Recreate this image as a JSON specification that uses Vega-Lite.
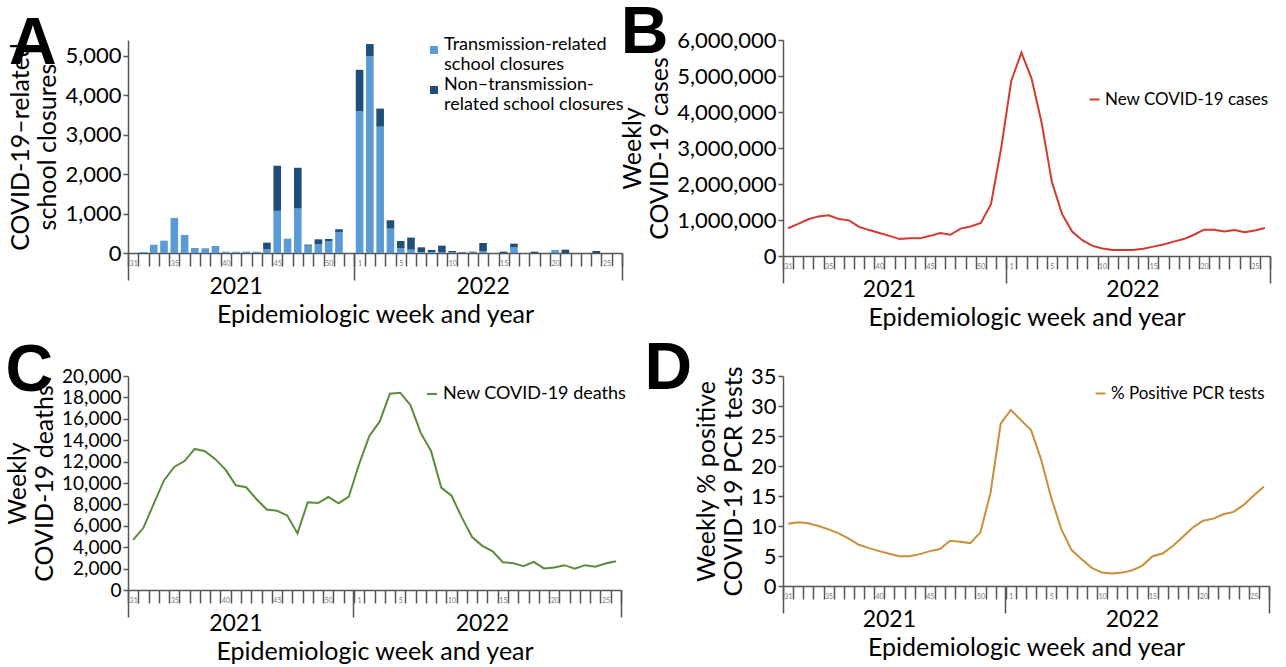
{
  "$schema": "https://vega.github.io/schema/vega-lite/v6.json",
  "padding": {"left": 5, "top": 0, "right": 2, "bottom": 0},
  "config": {
    "font": "Lato",
    "view": {"stroke": null},
    "axis": {"labelColor": "black", "titleColor": "black", "titleFontWeight": "normal", "domainColor": "#555", "tickColor": "#555", "domainWidth": 1.5, "tickWidth": 1.5, "grid": false, "labelOverlap": false},
    "legend": {"labelFontSize": 18, "labelColor": "black", "labelLimit": 400},
    "title": {"fontSize": 66, "fontWeight": "bold", "font": "Liberation Sans", "anchor": "start", "frame": "bounds", "color": "black"}
  },
  "datasets": {
    "weekly": [
      {"wk": "2021-31", "cases": 770000, "deaths": 4680, "pcr": 10.39},
      {"wk": "2021-32", "cases": 890000, "deaths": 5810, "pcr": 10.61},
      {"wk": "2021-33", "cases": 1020000, "deaths": 8040, "pcr": 10.45},
      {"wk": "2021-34", "cases": 1100000, "deaths": 10240, "pcr": 10.0},
      {"wk": "2021-35", "cases": 1130000, "deaths": 11500, "pcr": 9.44},
      {"wk": "2021-36", "cases": 1030000, "deaths": 12050, "pcr": 8.77},
      {"wk": "2021-37", "cases": 990000, "deaths": 13180, "pcr": 7.88},
      {"wk": "2021-38", "cases": 810000, "deaths": 12970, "pcr": 6.87},
      {"wk": "2021-39", "cases": 720000, "deaths": 12230, "pcr": 6.31},
      {"wk": "2021-40", "cases": 640000, "deaths": 11250, "pcr": 5.81},
      {"wk": "2021-41", "cases": 560000, "deaths": 9790, "pcr": 5.36},
      {"wk": "2021-42", "cases": 470000, "deaths": 9600, "pcr": 4.97},
      {"wk": "2021-43", "cases": 490000, "deaths": 8500, "pcr": 4.97},
      {"wk": "2021-44", "cases": 490000, "deaths": 7520, "pcr": 5.31},
      {"wk": "2021-45", "cases": 560000, "deaths": 7400, "pcr": 5.81},
      {"wk": "2021-46", "cases": 640000, "deaths": 6970, "pcr": 6.15},
      {"wk": "2021-47", "cases": 590000, "deaths": 5290, "pcr": 7.54},
      {"wk": "2021-48", "cases": 760000, "deaths": 8200, "pcr": 7.37},
      {"wk": "2021-49", "cases": 820000, "deaths": 8130, "pcr": 7.15},
      {"wk": "2021-50", "cases": 920000, "deaths": 8690, "pcr": 8.94},
      {"wk": "2021-51", "cases": 1440000, "deaths": 8100, "pcr": 15.59},
      {"wk": "2021-52", "cases": 2990000, "deaths": 8720, "pcr": 27.04},
      {"wk": "2022-01", "cases": 4870000, "deaths": 11770, "pcr": 29.33},
      {"wk": "2022-02", "cases": 5650000, "deaths": 14400, "pcr": 27.65},
      {"wk": "2022-03", "cases": 4930000, "deaths": 15730, "pcr": 25.98},
      {"wk": "2022-04", "cases": 3690000, "deaths": 18350, "pcr": 21.06},
      {"wk": "2022-05", "cases": 2060000, "deaths": 18440, "pcr": 14.64},
      {"wk": "2022-06", "cases": 1170000, "deaths": 17280, "pcr": 9.44},
      {"wk": "2022-07", "cases": 680000, "deaths": 14680, "pcr": 5.98},
      {"wk": "2022-08", "cases": 440000, "deaths": 13000, "pcr": 4.47},
      {"wk": "2022-09", "cases": 280000, "deaths": 9570, "pcr": 3.02},
      {"wk": "2022-10", "cases": 210000, "deaths": 8810, "pcr": 2.23},
      {"wk": "2022-11", "cases": 170000, "deaths": 6790, "pcr": 2.07},
      {"wk": "2022-12", "cases": 170000, "deaths": 4950, "pcr": 2.23},
      {"wk": "2022-13", "cases": 170000, "deaths": 4130, "pcr": 2.63},
      {"wk": "2022-14", "cases": 200000, "deaths": 3610, "pcr": 3.41},
      {"wk": "2022-15", "cases": 260000, "deaths": 2600, "pcr": 4.97},
      {"wk": "2022-16", "cases": 320000, "deaths": 2510, "pcr": 5.42},
      {"wk": "2022-17", "cases": 400000, "deaths": 2230, "pcr": 6.65},
      {"wk": "2022-18", "cases": 470000, "deaths": 2630, "pcr": 8.21},
      {"wk": "2022-19", "cases": 590000, "deaths": 2020, "pcr": 9.78},
      {"wk": "2022-20", "cases": 730000, "deaths": 2110, "pcr": 10.89},
      {"wk": "2022-21", "cases": 730000, "deaths": 2320, "pcr": 11.23},
      {"wk": "2022-22", "cases": 680000, "deaths": 1990, "pcr": 11.96},
      {"wk": "2022-23", "cases": 720000, "deaths": 2320, "pcr": 12.35},
      {"wk": "2022-24", "cases": 660000, "deaths": 2170, "pcr": 13.52},
      {"wk": "2022-25", "cases": 710000, "deaths": 2480, "pcr": 15.08},
      {"wk": "2022-26", "cases": 780000, "deaths": 2690, "pcr": 16.59}
    ],
    "closures": [
      {"wk": "2021-31", "series": "Transmission-related school closures", "n": 0}, {"wk": "2021-31", "series": "Non–transmission-related school closures", "n": 0},
      {"wk": "2021-32", "series": "Transmission-related school closures", "n": 25}, {"wk": "2021-32", "series": "Non–transmission-related school closures", "n": 0},
      {"wk": "2021-33", "series": "Transmission-related school closures", "n": 210}, {"wk": "2021-33", "series": "Non–transmission-related school closures", "n": 0},
      {"wk": "2021-34", "series": "Transmission-related school closures", "n": 314}, {"wk": "2021-34", "series": "Non–transmission-related school closures", "n": 0},
      {"wk": "2021-35", "series": "Transmission-related school closures", "n": 890}, {"wk": "2021-35", "series": "Non–transmission-related school closures", "n": 0},
      {"wk": "2021-36", "series": "Transmission-related school closures", "n": 458}, {"wk": "2021-36", "series": "Non–transmission-related school closures", "n": 0},
      {"wk": "2021-37", "series": "Transmission-related school closures", "n": 127}, {"wk": "2021-37", "series": "Non–transmission-related school closures", "n": 0},
      {"wk": "2021-38", "series": "Transmission-related school closures", "n": 119}, {"wk": "2021-38", "series": "Non–transmission-related school closures", "n": 0},
      {"wk": "2021-39", "series": "Transmission-related school closures", "n": 178}, {"wk": "2021-39", "series": "Non–transmission-related school closures", "n": 0},
      {"wk": "2021-40", "series": "Transmission-related school closures", "n": 34}, {"wk": "2021-40", "series": "Non–transmission-related school closures", "n": 0},
      {"wk": "2021-41", "series": "Transmission-related school closures", "n": 34}, {"wk": "2021-41", "series": "Non–transmission-related school closures", "n": 0},
      {"wk": "2021-42", "series": "Transmission-related school closures", "n": 34}, {"wk": "2021-42", "series": "Non–transmission-related school closures", "n": 0},
      {"wk": "2021-43", "series": "Transmission-related school closures", "n": 34}, {"wk": "2021-43", "series": "Non–transmission-related school closures", "n": 0},
      {"wk": "2021-44", "series": "Transmission-related school closures", "n": 102}, {"wk": "2021-44", "series": "Non–transmission-related school closures", "n": 161},
      {"wk": "2021-45", "series": "Transmission-related school closures", "n": 1068}, {"wk": "2021-45", "series": "Non–transmission-related school closures", "n": 1144},
      {"wk": "2021-46", "series": "Transmission-related school closures", "n": 364}, {"wk": "2021-46", "series": "Non–transmission-related school closures", "n": 0},
      {"wk": "2021-47", "series": "Transmission-related school closures", "n": 1127}, {"wk": "2021-47", "series": "Non–transmission-related school closures", "n": 1034},
      {"wk": "2021-48", "series": "Transmission-related school closures", "n": 186}, {"wk": "2021-48", "series": "Non–transmission-related school closures", "n": 26},
      {"wk": "2021-49", "series": "Transmission-related school closures", "n": 220}, {"wk": "2021-49", "series": "Non–transmission-related school closures", "n": 127},
      {"wk": "2021-50", "series": "Transmission-related school closures", "n": 305}, {"wk": "2021-50", "series": "Non–transmission-related school closures", "n": 51},
      {"wk": "2021-51", "series": "Transmission-related school closures", "n": 534}, {"wk": "2021-51", "series": "Non–transmission-related school closures", "n": 68},
      {"wk": "2021-52", "series": "Transmission-related school closures", "n": 0}, {"wk": "2021-52", "series": "Non–transmission-related school closures", "n": 0},
      {"wk": "2022-01", "series": "Transmission-related school closures", "n": 3593}, {"wk": "2022-01", "series": "Non–transmission-related school closures", "n": 1051},
      {"wk": "2022-02", "series": "Transmission-related school closures", "n": 4983}, {"wk": "2022-02", "series": "Non–transmission-related school closures", "n": 314},
      {"wk": "2022-03", "series": "Transmission-related school closures", "n": 3203}, {"wk": "2022-03", "series": "Non–transmission-related school closures", "n": 458},
      {"wk": "2022-04", "series": "Transmission-related school closures", "n": 619}, {"wk": "2022-04", "series": "Non–transmission-related school closures", "n": 211},
      {"wk": "2022-05", "series": "Transmission-related school closures", "n": 127}, {"wk": "2022-05", "series": "Non–transmission-related school closures", "n": 178},
      {"wk": "2022-06", "series": "Transmission-related school closures", "n": 85}, {"wk": "2022-06", "series": "Non–transmission-related school closures", "n": 305},
      {"wk": "2022-07", "series": "Transmission-related school closures", "n": 25}, {"wk": "2022-07", "series": "Non–transmission-related school closures", "n": 119},
      {"wk": "2022-08", "series": "Transmission-related school closures", "n": 25}, {"wk": "2022-08", "series": "Non–transmission-related school closures", "n": 51},
      {"wk": "2022-09", "series": "Transmission-related school closures", "n": 25}, {"wk": "2022-09", "series": "Non–transmission-related school closures", "n": 161},
      {"wk": "2022-10", "series": "Transmission-related school closures", "n": 17}, {"wk": "2022-10", "series": "Non–transmission-related school closures", "n": 34},
      {"wk": "2022-11", "series": "Transmission-related school closures", "n": 10}, {"wk": "2022-11", "series": "Non–transmission-related school closures", "n": 15},
      {"wk": "2022-12", "series": "Transmission-related school closures", "n": 15}, {"wk": "2022-12", "series": "Non–transmission-related school closures", "n": 19},
      {"wk": "2022-13", "series": "Transmission-related school closures", "n": 42}, {"wk": "2022-13", "series": "Non–transmission-related school closures", "n": 212},
      {"wk": "2022-14", "series": "Transmission-related school closures", "n": 0}, {"wk": "2022-14", "series": "Non–transmission-related school closures", "n": 0},
      {"wk": "2022-15", "series": "Transmission-related school closures", "n": 0}, {"wk": "2022-15", "series": "Non–transmission-related school closures", "n": 34},
      {"wk": "2022-16", "series": "Transmission-related school closures", "n": 152}, {"wk": "2022-16", "series": "Non–transmission-related school closures", "n": 85},
      {"wk": "2022-17", "series": "Transmission-related school closures", "n": 0}, {"wk": "2022-17", "series": "Non–transmission-related school closures", "n": 0},
      {"wk": "2022-18", "series": "Transmission-related school closures", "n": 0}, {"wk": "2022-18", "series": "Non–transmission-related school closures", "n": 34},
      {"wk": "2022-19", "series": "Transmission-related school closures", "n": 0}, {"wk": "2022-19", "series": "Non–transmission-related school closures", "n": 0},
      {"wk": "2022-20", "series": "Transmission-related school closures", "n": 76}, {"wk": "2022-20", "series": "Non–transmission-related school closures", "n": 0},
      {"wk": "2022-21", "series": "Transmission-related school closures", "n": 0}, {"wk": "2022-21", "series": "Non–transmission-related school closures", "n": 85},
      {"wk": "2022-22", "series": "Transmission-related school closures", "n": 0}, {"wk": "2022-22", "series": "Non–transmission-related school closures", "n": 0},
      {"wk": "2022-23", "series": "Transmission-related school closures", "n": 0}, {"wk": "2022-23", "series": "Non–transmission-related school closures", "n": 0},
      {"wk": "2022-24", "series": "Transmission-related school closures", "n": 0}, {"wk": "2022-24", "series": "Non–transmission-related school closures", "n": 51},
      {"wk": "2022-25", "series": "Transmission-related school closures", "n": 0}, {"wk": "2022-25", "series": "Non–transmission-related school closures", "n": 0},
      {"wk": "2022-26", "series": "Transmission-related school closures", "n": 0}, {"wk": "2022-26", "series": "Non–transmission-related school closures", "n": 0}
    ]
  },
  "vconcat": [
    {
      "hconcat": [
        {
          "width": 494, "height": 213,
          "title": {"text": "A", "offset": -38},
          "data": {"name": "closures"},
          "encoding": {
            "y": {"field": "n", "type": "quantitative", "aggregate": "sum", "scale": {"domain": [0, 5400], "nice": false},
              "axis": {"values": [0, 1000, 2000, 3000, 4000, 5000], "format": ",d", "tickSize": 5, "labelFontSize": 22, "titleFontSize": 25, "title": ["COVID-19–related", "school closures"], "titlePadding": 4}}
          },
          "layer": [
            {
              "mark": {"type": "bar", "width": {"band": 0.74}},
              "encoding": {
                "x": {"field": "wk", "type": "ordinal", "scale": {"type": "band", "paddingInner": 0, "paddingOuter": 0},
                  "axis": {"orient": "bottom", "title": null, "tickBand": "extent", "tickSize": 13, "labelFontSize": 7, "labelColor": "#777", "labelPadding": -7, "labelBaseline": "top", "labelAngle": 0,
                    "labelExpr": "indexof(['2021-31','2021-35','2021-40','2021-45','2021-50','2022-01','2022-05','2022-10','2022-15','2022-20','2022-25'], datum.value) >= 0 ? '' + toNumber(split(datum.value, '-')[1]) : ''"}},
                "color": {"field": "series", "type": "nominal",
                  "scale": {"domain": ["Transmission-related school closures", "Non–transmission-related school closures"], "range": ["#5b9bd5", "#1f4e79"]},
                  "legend": {"title": null, "orient": "none", "legendX": 297, "legendY": 1, "symbolType": "square", "symbolSize": 64, "labelBaseline": "alphabetic", "rowPadding": 2, "labelOffset": 1,
                    "labelExpr": "datum.label == 'Transmission-related school closures' ? ['Transmission-related', 'school closures'] : ['Non–transmission-', 'related school closures']"}},
                "order": {"field": "series", "sort": "descending"}
              }
            },
            {
              "mark": {"type": "point", "opacity": 0},
              "encoding": {"x": {"field": "wk", "type": "ordinal", "scale": {"type": "band", "paddingInner": 0, "paddingOuter": 0},
                "axis": {"orient": "bottom", "values": ["2021-41", "2022-13"], "bandPosition": 1, "ticks": false, "domain": false, "labelExpr": "split(datum.value, '-')[0]", "labelFontSize": 23, "labelPadding": 22, "labelAngle": 0, "title": "Epidemiologic week and year", "titleFontSize": 25, "titlePadding": 4}}}
            },
            {
              "mark": {"type": "point", "opacity": 0},
              "encoding": {"x": {"field": "wk", "type": "ordinal", "scale": {"type": "band", "paddingInner": 0, "paddingOuter": 0},
                "axis": {"orient": "bottom", "values": ["2021-52", "2022-26"], "bandPosition": 1, "tickSize": 27, "labels": false, "domain": false, "title": null}}}
            },
            {
              "mark": {"type": "point", "opacity": 0},
              "encoding": {"x": {"field": "wk", "type": "ordinal", "scale": {"type": "band", "paddingInner": 0, "paddingOuter": 0},
                "axis": {"orient": "bottom", "values": ["2021-31"], "bandPosition": 0, "tickSize": 27, "labels": false, "domain": false, "title": null}}}
            }
          ],
          "resolve": {"axis": {"x": "independent"}}
        },
        {
          "width": 487, "height": 216,
          "title": {"text": "B", "offset": -38},
          "data": {"name": "weekly"},
          "encoding": {
            "y": {"field": "cases", "type": "quantitative", "scale": {"domain": [0, 6000000], "nice": false},
              "axis": {"values": [0, 1000000, 2000000, 3000000, 4000000, 5000000, 6000000], "format": ",d", "tickSize": 5, "labelFontSize": 22, "titleFontSize": 25, "title": ["Weekly", "COVID-19 cases"], "titlePadding": 4}}
          },
          "layer": [
            {
              "mark": {"type": "line", "strokeWidth": 2},
              "encoding": {
                "x": {"field": "wk", "type": "ordinal", "scale": {"type": "band", "paddingInner": 0, "paddingOuter": 0},
                  "axis": {"orient": "bottom", "title": null, "tickBand": "extent", "tickSize": 13, "labelFontSize": 7, "labelColor": "#777", "labelPadding": -7, "labelBaseline": "top", "labelAngle": 0,
                    "labelExpr": "indexof(['2021-31','2021-35','2021-40','2021-45','2021-50','2022-01','2022-05','2022-10','2022-15','2022-20','2022-25'], datum.value) >= 0 ? '' + toNumber(split(datum.value, '-')[1]) : ''"}},
                "color": {"datum": "New COVID-19 cases", "type": "nominal", "scale": {"domain": ["New COVID-19 cases"], "range": ["#d23a2e"]},
                  "legend": {"title": null, "orient": "none", "legendX": 303, "legendY": 51, "symbolType": "stroke", "symbolStrokeWidth": 2, "symbolSize": 100, "labelFontSize": 17, "labelOffset": 2}}
              }
            },
            {
              "mark": {"type": "point", "opacity": 0},
              "encoding": {"x": {"field": "wk", "type": "ordinal", "scale": {"type": "band", "paddingInner": 0, "paddingOuter": 0},
                "axis": {"orient": "bottom", "values": ["2021-41", "2022-13"], "bandPosition": 1, "ticks": false, "domain": false, "labelExpr": "split(datum.value, '-')[0]", "labelFontSize": 23, "labelPadding": 22, "labelAngle": 0, "title": "Epidemiologic week and year", "titleFontSize": 25, "titlePadding": 4}}}
            },
            {
              "mark": {"type": "point", "opacity": 0},
              "encoding": {"x": {"field": "wk", "type": "ordinal", "scale": {"type": "band", "paddingInner": 0, "paddingOuter": 0},
                "axis": {"orient": "bottom", "values": ["2021-52", "2022-26"], "bandPosition": 1, "tickSize": 27, "labels": false, "domain": false, "title": null}}}
            },
            {
              "mark": {"type": "point", "opacity": 0},
              "encoding": {"x": {"field": "wk", "type": "ordinal", "scale": {"type": "band", "paddingInner": 0, "paddingOuter": 0},
                "axis": {"orient": "bottom", "values": ["2021-31"], "bandPosition": 0, "tickSize": 27, "labels": false, "domain": false, "title": null}}}
            }
          ],
          "resolve": {"axis": {"x": "independent"}}
        }
      ],
      "spacing": -4,
      "resolve": {"scale": {"color": "independent"}, "legend": {"color": "independent"}}
    },
    {
      "hconcat": [
        {
          "width": 493, "height": 214,
          "title": {"text": "C", "offset": -38},
          "data": {"name": "weekly"},
          "encoding": {
            "y": {"field": "deaths", "type": "quantitative", "scale": {"domain": [0, 20000], "nice": false},
              "axis": {"values": [0, 2000, 4000, 6000, 8000, 10000, 12000, 14000, 16000, 18000, 20000], "format": ",d", "tickSize": 5, "labelFontSize": 19, "titleFontSize": 25, "title": ["Weekly", "COVID-19 deaths"], "titlePadding": 4}}
          },
          "layer": [
            {
              "mark": {"type": "line", "strokeWidth": 2},
              "encoding": {
                "x": {"field": "wk", "type": "ordinal", "scale": {"type": "band", "paddingInner": 0, "paddingOuter": 0},
                  "axis": {"orient": "bottom", "title": null, "tickBand": "extent", "tickSize": 13, "labelFontSize": 7, "labelColor": "#777", "labelPadding": -7, "labelBaseline": "top", "labelAngle": 0,
                    "labelExpr": "indexof(['2021-31','2021-35','2021-40','2021-45','2021-50','2022-01','2022-05','2022-10','2022-15','2022-20','2022-25'], datum.value) >= 0 ? '' + toNumber(split(datum.value, '-')[1]) : ''"}},
                "color": {"datum": "New COVID-19 deaths", "type": "nominal", "scale": {"domain": ["New COVID-19 deaths"], "range": ["#5b8b3c"]},
                  "legend": {"title": null, "orient": "none", "legendX": 295, "legendY": 9, "symbolType": "stroke", "symbolStrokeWidth": 2, "symbolSize": 100, "labelOffset": 2}}
              }
            },
            {
              "mark": {"type": "point", "opacity": 0},
              "encoding": {"x": {"field": "wk", "type": "ordinal", "scale": {"type": "band", "paddingInner": 0, "paddingOuter": 0},
                "axis": {"orient": "bottom", "values": ["2021-41", "2022-13"], "bandPosition": 1, "ticks": false, "domain": false, "labelExpr": "split(datum.value, '-')[0]", "labelFontSize": 23, "labelPadding": 22, "labelAngle": 0, "title": "Epidemiologic week and year", "titleFontSize": 25, "titlePadding": 4}}}
            },
            {
              "mark": {"type": "point", "opacity": 0},
              "encoding": {"x": {"field": "wk", "type": "ordinal", "scale": {"type": "band", "paddingInner": 0, "paddingOuter": 0},
                "axis": {"orient": "bottom", "values": ["2021-52", "2022-26"], "bandPosition": 1, "tickSize": 27, "labels": false, "domain": false, "title": null}}}
            },
            {
              "mark": {"type": "point", "opacity": 0},
              "encoding": {"x": {"field": "wk", "type": "ordinal", "scale": {"type": "band", "paddingInner": 0, "paddingOuter": 0},
                "axis": {"orient": "bottom", "values": ["2021-31"], "bandPosition": 0, "tickSize": 27, "labels": false, "domain": false, "title": null}}}
            }
          ],
          "resolve": {"axis": {"x": "independent"}}
        },
        {
          "width": 486, "height": 210,
          "title": {"text": "D", "offset": -38, "dx": -50},
          "data": {"name": "weekly"},
          "encoding": {
            "y": {"field": "pcr", "type": "quantitative", "scale": {"domain": [0, 35], "nice": false},
              "axis": {"values": [0, 5, 10, 15, 20, 25, 30, 35], "format": "d", "tickSize": 5, "labelFontSize": 22, "titleFontSize": 25, "title": ["Weekly % positive", "COVID-19 PCR tests"], "titlePadding": 4}}
          },
          "layer": [
            {
              "mark": {"type": "line", "strokeWidth": 2},
              "encoding": {
                "x": {"field": "wk", "type": "ordinal", "scale": {"type": "band", "paddingInner": 0, "paddingOuter": 0},
                  "axis": {"orient": "bottom", "title": null, "tickBand": "extent", "tickSize": 13, "labelFontSize": 7, "labelColor": "#777", "labelPadding": -7, "labelBaseline": "top", "labelAngle": 0,
                    "labelExpr": "indexof(['2021-31','2021-35','2021-40','2021-45','2021-50','2022-01','2022-05','2022-10','2022-15','2022-20','2022-25'], datum.value) >= 0 ? '' + toNumber(split(datum.value, '-')[1]) : ''"}},
                "color": {"datum": "% Positive PCR tests", "type": "nominal", "scale": {"domain": ["% Positive PCR tests"], "range": ["#c98f3a"]},
                  "legend": {"title": null, "orient": "none", "legendX": 309, "legendY": 9, "symbolType": "stroke", "symbolStrokeWidth": 2, "symbolSize": 100, "labelFontSize": 17, "labelOffset": 2}}
              }
            },
            {
              "mark": {"type": "point", "opacity": 0},
              "encoding": {"x": {"field": "wk", "type": "ordinal", "scale": {"type": "band", "paddingInner": 0, "paddingOuter": 0},
                "axis": {"orient": "bottom", "values": ["2021-41", "2022-13"], "bandPosition": 1, "ticks": false, "domain": false, "labelExpr": "split(datum.value, '-')[0]", "labelFontSize": 23, "labelPadding": 22, "labelAngle": 0, "title": "Epidemiologic week and year", "titleFontSize": 25, "titlePadding": 4}}}
            },
            {
              "mark": {"type": "point", "opacity": 0},
              "encoding": {"x": {"field": "wk", "type": "ordinal", "scale": {"type": "band", "paddingInner": 0, "paddingOuter": 0},
                "axis": {"orient": "bottom", "values": ["2021-52", "2022-26"], "bandPosition": 1, "tickSize": 27, "labels": false, "domain": false, "title": null}}}
            },
            {
              "mark": {"type": "point", "opacity": 0},
              "encoding": {"x": {"field": "wk", "type": "ordinal", "scale": {"type": "band", "paddingInner": 0, "paddingOuter": 0},
                "axis": {"orient": "bottom", "values": ["2021-31"], "bandPosition": 0, "tickSize": 27, "labels": false, "domain": false, "title": null}}}
            }
          ],
          "resolve": {"axis": {"x": "independent"}}
        }
      ],
      "spacing": 17,
      "resolve": {"scale": {"color": "independent"}, "legend": {"color": "independent"}}
    }
  ],
  "spacing": 6,
  "resolve": {"scale": {"color": "independent"}, "legend": {"color": "independent"}}
}
